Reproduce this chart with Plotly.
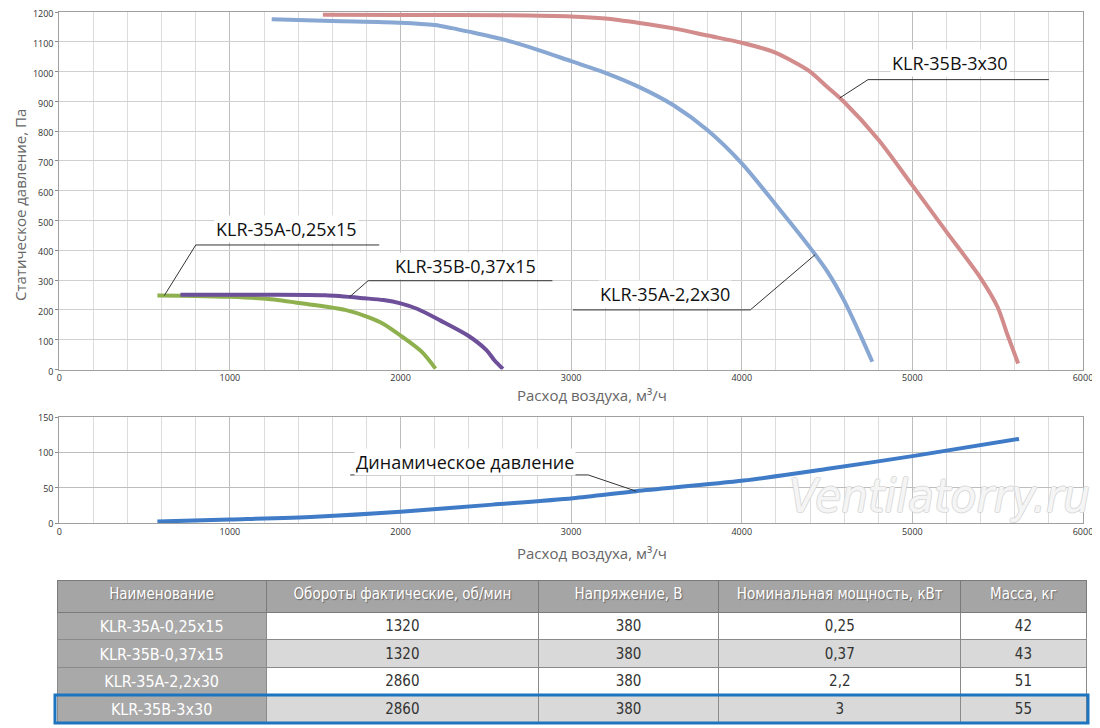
import numpy as np
import plotly.graph_objects as go

# --- данные кривых (расход, м3/ч -> статическое давление, Па) ---
green_x = [575, 800, 1000, 1225, 1450, 1675, 1810, 1900, 2000, 2125, 2205]
green_y = [248, 247, 244, 237, 220, 200, 176, 153, 114, 59, 3]

purple_x = [710, 1000, 1225, 1560, 1790, 1900, 2000, 2100, 2235, 2395, 2505, 2550, 2600]
purple_y = [251, 251, 251, 249, 239, 233, 222, 203, 164, 114, 64, 31, 2]

blue_x = [1245, 1600, 2000, 2200, 2300, 2400, 2600, 2800, 3000, 3200, 3400,
          3600, 3800, 4000, 4200, 4400, 4500, 4600, 4690, 4765]
blue_y = [1176, 1170, 1164, 1156, 1146, 1134, 1108, 1074, 1035, 996, 948,
          887, 803, 692, 553, 409, 330, 231, 122, 26]

red_x = [1545, 2000, 2600, 3000, 3200, 3400, 3600, 3800, 4000, 4200, 4300,
         4400, 4500, 4600, 4800, 5000, 5200, 5400, 5500, 5555, 5620]
red_y = [1191, 1190, 1189, 1185, 1178, 1163, 1145, 1121, 1097, 1063, 1034,
         1000, 949, 898, 772, 618, 462, 307, 209, 120, 20]

# динамическое давление, Па
dyn_x = [575, 1000, 1500, 2000, 2540, 3010, 3380, 4010, 4515, 5010, 5625]
dyn_y = [2, 5, 9, 16, 26, 35, 45, 60, 77, 95, 119]

# --- таблица ---
col_names = ["Наименование", "Обороты фактические, об/мин", "Напряжение, В",
             "Номинальная мощность, кВт", "Масса, кг"]
models = ["KLR-35A-0,25x15", "KLR-35B-0,37x15", "KLR-35A-2,2x30", "KLR-35B-3x30"]
rpm = ["1320", "1320", "2860", "2860"]
voltage = ["380", "380", "380", "380"]
power = ["0,25", "0,37", "2,2", "3"]
mass = ["42", "43", "51", "55"]

FONT = "Open Sans, DejaVu Sans, sans-serif"
NARROW = "DejaVu Sans Condensed, Liberation Sans Narrow, Roboto, sans-serif"

# страница браузера имеет отступ 8px, поэтому фигура чуть меньше окна
W, H, OFF = 1092, 720, 8


def fx(px):
    return (px - OFF) / W


def fy(py):
    return 1 - (py - OFF) / H


fig = go.Figure()

curves = [
    (models[0], green_x, green_y, "#8fb04e"),
    (models[1], purple_x, purple_y, "#6e4f9a"),
    (models[2], blue_x, blue_y, "#88a7d3"),
    (models[3], red_x, red_y, "#d38c8c"),
]
for name, xs, ys, col in curves:
    fig.add_trace(go.Scatter(x=xs, y=ys, mode="lines", name=name,
                             line=dict(color=col, width=4, shape="spline", smoothing=0.8),
                             xaxis="x", yaxis="y"))

fig.add_trace(go.Scatter(x=dyn_x, y=dyn_y, mode="lines", name="Динамическое давление",
                         line=dict(color="#3f7bc6", width=4, shape="spline", smoothing=0.8),
                         xaxis="x2", yaxis="y2"))

# выноски: (текст, кривая, x касания, x излома, y излома, x конца, x текста, y текста, оси)
callouts = [
    (models[0], green_x, green_y, 615, 800, 418, 1875, 1330, 470, "x", "y"),
    (models[1], purple_x, purple_y, 1700, 1810, 298, 2890, 2380, 348, "x", "y"),
    (models[2], blue_x, blue_y, 4430, 4050, 200, 3010, 3550, 254, "x", "y"),
    (models[3], red_x, red_y, 4574, 4740, 973, 5800, 5222, 1028, "x", "y"),
    ("Динамическое давление", dyn_x, dyn_y, 3381, 3100, 68, 1705, 2380, 87, "x2", "y2"),
]
shapes = []
annotations = []
for text, xs, ys, tx, ex, ey, lx, txx, tyy, xr, yr in callouts:
    ty = float(np.interp(tx, xs, ys))
    shapes.append(dict(type="path", xref=xr, yref=yr,
                       path=f"M {tx} {ty} L {ex} {ey} L {lx} {ey}",
                       line=dict(color="#333333", width=1)))
    annotations.append(dict(text=text, x=txx, y=tyy, xref=xr, yref=yr, showarrow=False,
                            bgcolor="white", font=dict(family=FONT, size=18, color="#111")))

# подписи осей
title_font = dict(family=FONT, size=15, color="#666")
annotations += [
    dict(text="Статическое давление, Па", x=fx(20), y=fy(205), textangle=-90,
         font=title_font),
    dict(text="Расход воздуха, м³/ч", x=fx(592), y=fy(395), font=title_font),
    dict(text="Расход воздуха, м³/ч", x=fx(592), y=fy(553), font=title_font),
]
for a in annotations[-3:]:
    a.update(xref="paper", yref="paper", xanchor="center", yanchor="middle", showarrow=False)

annotations.append(dict(
    text="Ventilatorry.ru", x=fx(1092), y=fy(495), xref="paper", yref="paper",
    xanchor="right", yanchor="middle", showarrow=False,
    font=dict(family=NARROW, size=47, color="rgba(255,255,255,0.8)", style="italic",
              shadow="1px 0 #d4d4d4, -1px 0 #d4d4d4, 0 1px #d4d4d4, 0 -1px #d4d4d4")))

# таблица
body_fill = ["white", "#d9d9d9", "white", "#d9d9d9"]
fig.add_trace(go.Table(
    domain=dict(x=[fx(57), fx(1086)], y=[0.0, fy(580)]),
    columnwidth=[209, 272, 180, 242, 125],
    header=dict(values=col_names, height=32, align="center",
                fill_color="#a5a5a5", line=dict(color="#7a7a7a", width=1),
                font=dict(family=NARROW, size=15, color="white", shadow="1px 1px 1px #666")),
    cells=dict(values=[models, rpm, voltage, power, mass], height=27.5, align="center",
               fill_color=[["#a9a9a9"] * 4] + [body_fill] * 4,
               line=dict(color="#8a8a8a", width=1),
               font=dict(family=NARROW, size=[16, 15, 15, 15, 15],
                         color=[["white"] * 4] + [["#333333"] * 4] * 4)),
))

shapes.append(dict(type="rect", xref="paper", yref="paper",
                   x0=fx(55), x1=fx(1088), y0=fy(723), y1=fy(695),
                   line=dict(color="#1f74c0", width=3)))

axis_common = dict(range=[0, 6000], dtick=1000, showline=True, mirror=True,
                   linecolor="#a0a0a0", linewidth=1, showgrid=True, gridcolor="#bdbdbd",
                   gridwidth=1, zeroline=False, ticks="", automargin=False,
                   ticklabeloverflow="allow",
                   minor=dict(dtick=200, showgrid=True, gridcolor="#dcdcdc", gridwidth=1),
                   tickfont=dict(family=FONT, size=9, color="#333"))

fig.update_layout(
    width=W, height=H,
    margin=dict(l=0, r=0, t=0, b=0, autoexpand=False),
    paper_bgcolor="white", plot_bgcolor="white",
    showlegend=False,
    xaxis=dict(domain=[fx(59.3), fx(1083)], anchor="y", **axis_common),
    yaxis=dict(domain=[fy(369.5), fy(12)], range=[0, 1200], dtick=100,
               showline=True, mirror=True, linecolor="#a0a0a0", showgrid=True,
               gridcolor="#d0d0d0", zeroline=False, ticks="outside", ticklen=3,
               automargin=False, ticklabeloverflow="allow", ticklabelshift=2,
               tickcolor="#888", tickfont=dict(family=FONT, size=9, color="#333")),
    xaxis2=dict(domain=[fx(59.3), fx(1083)], anchor="y2", **axis_common),
    yaxis2=dict(domain=[fy(523), fy(417)], range=[0, 150], dtick=50,
                showline=True, mirror=True, linecolor="#a0a0a0", showgrid=True,
                gridcolor="#bdbdbd", zeroline=False, ticks="outside", ticklen=3,
                automargin=False, ticklabeloverflow="allow", ticklabelshift=1,
                tickcolor="#888", tickfont=dict(family=FONT, size=9, color="#333")),
    shapes=shapes,
    annotations=annotations,
)

fig.write_html("out.html")
